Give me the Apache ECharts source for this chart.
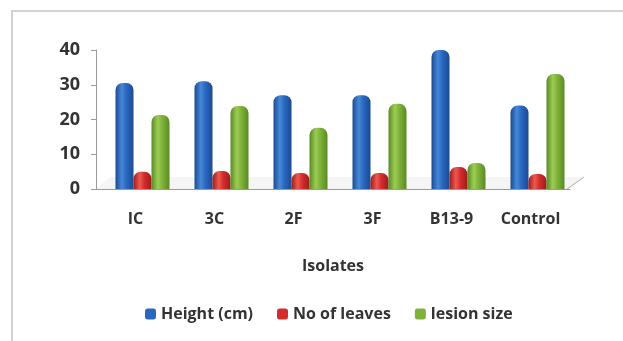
<!DOCTYPE html>
<html>
<head>
<meta charset="utf-8">
<script src="https://cdn.jsdelivr.net/npm/echarts@6/dist/echarts.min.js"></script>
<style>
  html, body { margin: 0; padding: 0; background: #fff; overflow: hidden; }
  #frame { position: absolute; left: 11px; top: 10px; width: 700px; height: 400px;
           border: 2px solid #d2d2d2; box-sizing: border-box; }
  #chart { position: absolute; left: 0; top: 0; width: 623px; height: 341px; }
</style>
</head>
<body>
<div id="frame"></div>
<div id="chart"></div>
<script>
const categories = ['IC', '3C', '2F', '3F', 'B13-9', 'Control'];
const heightCm = [30.5, 31, 27, 27, 40, 24];
const noOfLeaves = [5, 5.2, 4.6, 4.6, 6.3, 4.3];
const lesionSize = [21.3, 23.9, 17.6, 24.5, 7.5, 33.1];
const yTicks = { min: 0, max: 40, interval: 10 };

// plot box
const G = { left: 96, top: 50, width: 474, height: 139 };
const SHIFT = 7; // columns sit a little right of the category centre (3-D depth)

const chart = echarts.init(document.getElementById('chart'));

const cyl = (dark, mid, light) => new echarts.graphic.LinearGradient(0, 0, 1, 0, [
  { offset: 0, color: dark },
  { offset: 0.35, color: light },
  { offset: 0.6, color: mid },
  { offset: 1, color: dark },
]);
const BLUE = cyl('#1b4a92', '#2a68c0', '#4688d8');
const RED = cyl('#9e1c1c', '#d42c2c', '#ec5a50');
const GREEN = cyl('#5a8a22', '#7fb23a', '#9ccc55');

const txt = '#333333';
const font = '"Open Sans", "DejaVu Sans", sans-serif';

const bar = (name, data, color) => ({
  name,
  type: 'bar',
  xAxisIndex: 1,
  yAxisIndex: 1,
  data,
  barWidth: 18,
  barGap: '0%',
  itemStyle: { color, borderRadius: [7, 7, 0, 0] },
  legendIcon: 'rect',
  emphasis: { disabled: true },
  z: 3,
});

chart.setOption({
  animation: false,
  textStyle: { fontFamily: font },
  color: ['#2a68c0', '#d42c2c', '#7fb23a'],
  grid: [
    { left: G.left, top: G.top, width: G.width, height: G.height },
    { left: G.left + SHIFT, top: G.top, width: G.width, height: G.height },
  ],
  legend: {
    bottom: 14,
    left: 140,
    itemWidth: 11,
    itemHeight: 11,
    itemGap: 24,
    textStyle: { fontSize: 16, fontWeight: 'bold', color: txt, fontFamily: font },
    data: [
      { name: 'Height (cm)', itemStyle: { color: '#2a68c0' } },
      { name: 'No of leaves', itemStyle: { color: '#d42c2c' } },
      { name: 'lesion size', itemStyle: { color: '#7fb23a' } },
    ],
  },
  xAxis: [
    {
      type: 'category',
      gridIndex: 0,
      data: categories,
      name: 'Isolates',
      nameLocation: 'middle',
      nameGap: 69,
      nameTextStyle: { fontSize: 16, fontWeight: 'bold', color: txt },
      axisLine: { lineStyle: { color: '#9a9a9a' } },
      axisTick: { length: 5, lineStyle: { color: '#9a9a9a' } },
      axisLabel: { fontSize: 16, fontWeight: 'bold', color: txt, margin: 22 },
    },
    {
      type: 'category',
      gridIndex: 1,
      data: categories,
      show: false,
    },
  ],
  yAxis: [
    {
      type: 'value',
      gridIndex: 0,
      min: yTicks.min,
      max: yTicks.max,
      interval: yTicks.interval,
      axisLine: { show: true, lineStyle: { color: '#9a9a9a' } },
      axisTick: { show: true, length: 5, lineStyle: { color: '#9a9a9a' } },
      axisLabel: { fontSize: 18, fontWeight: 'bold', color: txt, margin: 16 },
      splitLine: { show: false },
    },
    {
      type: 'value',
      gridIndex: 1,
      min: yTicks.min,
      max: yTicks.max,
      interval: yTicks.interval,
      show: false,
      splitLine: { show: false },
    },
  ],
  // 3-D floor behind the columns
  graphic: [
    {
      type: 'polygon',
      silent: true,
      z: 0,
      shape: { points: [
        [G.left, G.top + G.height], [G.left + G.width, G.top + G.height],
        [G.left + G.width + 14, G.top + G.height - 12], [G.left + 14, G.top + G.height - 12],
      ] },
      style: { fill: '#f5f5f5', stroke: null },
    },
    {
      type: 'polyline',
      silent: true,
      z: 1,
      shape: { points: [
        [G.left + G.width - 3, G.top + G.height], [G.left + G.width + 14, G.top + G.height - 12],
      ] },
      style: { stroke: '#b0b0b0', lineWidth: 1 },
    },
  ],
  series: [
    bar('Height (cm)', heightCm, BLUE),
    bar('No of leaves', noOfLeaves, RED),
    bar('lesion size', lesionSize, GREEN),
  ],
});
</script>
</body>
</html>
